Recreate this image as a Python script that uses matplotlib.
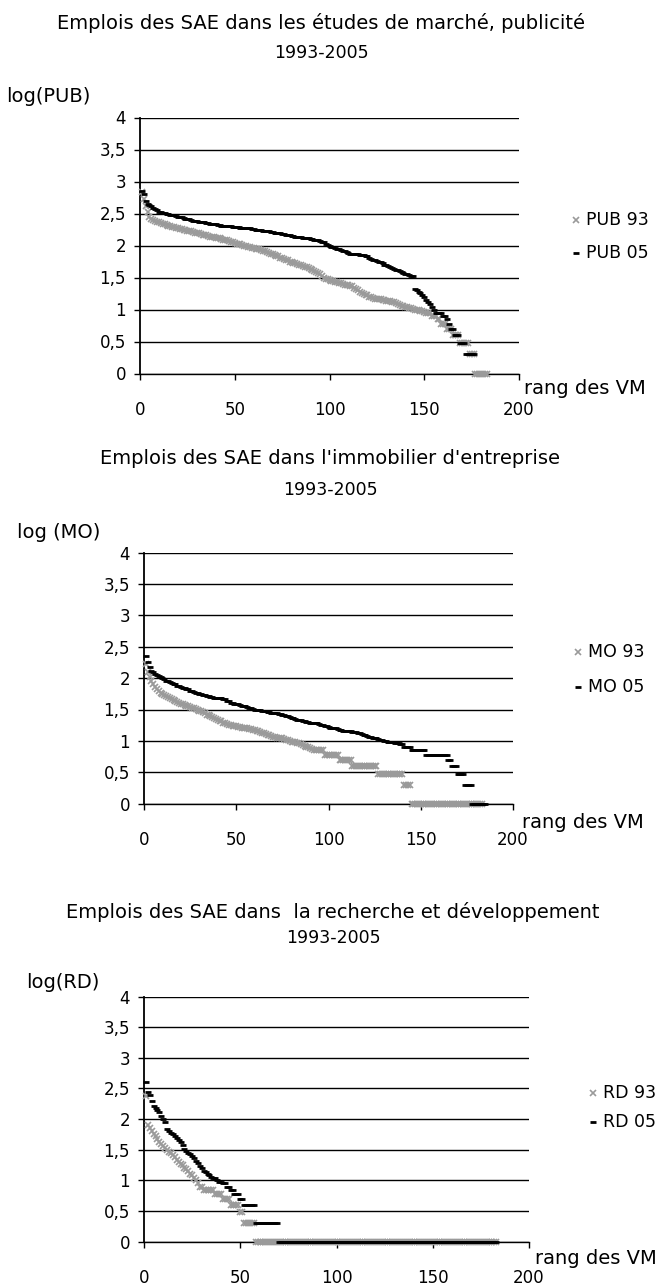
import numpy as np
import matplotlib
matplotlib.use("Agg")
import matplotlib.pyplot as plt
from matplotlib.lines import Line2D

""" Rank-size data: log10 of SAE jobs per city, cities ranked from 1 """
PUB_93 = [2.83, 2.72, 2.62, 2.52, 2.45, 2.42, 2.40, 2.39, 2.37, 2.36,
          2.35, 2.34, 2.33, 2.32, 2.31, 2.30, 2.29, 2.29, 2.28, 2.27,
          2.26, 2.26, 2.25, 2.24, 2.23, 2.23, 2.22, 2.21, 2.20, 2.20,
          2.19, 2.18, 2.17, 2.16, 2.16, 2.15, 2.14, 2.14, 2.13, 2.12,
          2.11, 2.11, 2.10, 2.09, 2.08, 2.08, 2.07, 2.06, 2.05, 2.04,
          2.03, 2.03, 2.02, 2.01, 2.00, 1.99, 1.98, 1.97, 1.96, 1.96,
          1.95, 1.94, 1.94, 1.93, 1.92, 1.91, 1.90, 1.89, 1.87, 1.86,
          1.85, 1.84, 1.83, 1.81, 1.80, 1.79, 1.78, 1.77, 1.75, 1.74,
          1.73, 1.72, 1.71, 1.70, 1.69, 1.68, 1.67, 1.66, 1.65, 1.64,
          1.62, 1.60, 1.59, 1.57, 1.55, 1.52, 1.50, 1.48, 1.47, 1.46,
          1.45, 1.44, 1.43, 1.43, 1.42, 1.41, 1.40, 1.39, 1.39, 1.38,
          1.37, 1.36, 1.34, 1.32, 1.30, 1.28, 1.26, 1.25, 1.23, 1.22,
          1.20, 1.19, 1.18, 1.17, 1.17, 1.16, 1.16, 1.15, 1.15, 1.14,
          1.14, 1.13, 1.12, 1.11, 1.10, 1.08, 1.07, 1.06, 1.05, 1.04,
          1.04, 1.03, 1.02, 1.01, 1.00, 1.00, 0.99, 0.98, 0.97, 0.96,
          0.95, 0.95, 0.95, 0.90, 0.90, 0.90, 0.85, 0.85, 0.78, 0.78,
          0.78, 0.70, 0.70, 0.70, 0.60, 0.60, 0.60, 0.60, 0.48, 0.48,
          0.48, 0.48, 0.48, 0.30, 0.30, 0.30, 0.00, 0.00, 0.00, 0.00,
          0.00, 0.00, 0.00]

PUB_05 = [2.85, 2.80, 2.70, 2.65, 2.63, 2.61, 2.59, 2.57, 2.55, 2.53,
          2.52, 2.51, 2.51, 2.50, 2.49, 2.48, 2.48, 2.47, 2.46, 2.45,
          2.44, 2.44, 2.43, 2.42, 2.41, 2.41, 2.40, 2.39, 2.39, 2.38,
          2.37, 2.37, 2.36, 2.36, 2.35, 2.35, 2.34, 2.34, 2.33, 2.33,
          2.32, 2.32, 2.31, 2.31, 2.31, 2.30, 2.30, 2.30, 2.29, 2.29,
          2.29, 2.29, 2.28, 2.28, 2.28, 2.28, 2.27, 2.27, 2.26, 2.26,
          2.25, 2.25, 2.24, 2.24, 2.23, 2.23, 2.22, 2.22, 2.21, 2.21,
          2.20, 2.20, 2.19, 2.19, 2.18, 2.18, 2.17, 2.16, 2.16, 2.15,
          2.15, 2.14, 2.14, 2.13, 2.13, 2.12, 2.12, 2.11, 2.11, 2.10,
          2.10, 2.09, 2.09, 2.08, 2.07, 2.06, 2.05, 2.03, 2.01, 2.00,
          1.98, 1.97, 1.96, 1.95, 1.94, 1.93, 1.92, 1.91, 1.90, 1.88,
          1.87, 1.87, 1.86, 1.86, 1.86, 1.85, 1.85, 1.85, 1.84, 1.83,
          1.81, 1.79, 1.78, 1.77, 1.76, 1.75, 1.74, 1.72, 1.70, 1.69,
          1.68, 1.67, 1.65, 1.64, 1.62, 1.61, 1.60, 1.58, 1.57, 1.56,
          1.55, 1.54, 1.53, 1.53, 1.32, 1.30, 1.28, 1.26, 1.23, 1.20,
          1.15, 1.11, 1.08, 1.04, 1.00, 0.95, 0.95, 0.95, 0.95, 0.90,
          0.90, 0.85, 0.78, 0.70, 0.70, 0.60, 0.60, 0.60, 0.48, 0.48,
          0.48, 0.30, 0.30, 0.30, 0.30, 0.30]

MO_93 = [2.22, 2.10, 2.02, 1.95, 1.90, 1.86, 1.82, 1.79, 1.76, 1.75,
         1.73, 1.71, 1.70, 1.68, 1.66, 1.65, 1.63, 1.62, 1.60, 1.59,
         1.58, 1.57, 1.56, 1.55, 1.54, 1.53, 1.52, 1.51, 1.49, 1.48,
         1.47, 1.46, 1.44, 1.42, 1.41, 1.39, 1.38, 1.36, 1.35, 1.33,
         1.32, 1.31, 1.29, 1.28, 1.27, 1.26, 1.25, 1.24, 1.23, 1.23,
         1.22, 1.22, 1.21, 1.21, 1.20, 1.20, 1.19, 1.19, 1.18, 1.17,
         1.16, 1.15, 1.14, 1.13, 1.12, 1.11, 1.10, 1.09, 1.08, 1.07,
         1.06, 1.05, 1.05, 1.04, 1.04, 1.03, 1.02, 1.01, 1.00, 0.99,
         0.98, 0.98, 0.97, 0.96, 0.95, 0.93, 0.92, 0.90, 0.90, 0.88,
         0.87, 0.85, 0.85, 0.85, 0.85, 0.85, 0.85, 0.78, 0.78, 0.78,
         0.78, 0.78, 0.78, 0.78, 0.78, 0.70, 0.70, 0.70, 0.70, 0.70,
         0.70, 0.70, 0.60, 0.60, 0.60, 0.60, 0.60, 0.60, 0.60, 0.60,
         0.60, 0.60, 0.60, 0.60, 0.60, 0.60, 0.48, 0.48, 0.48, 0.48,
         0.48, 0.48, 0.48, 0.48, 0.48, 0.48, 0.48, 0.48, 0.48, 0.48,
         0.30, 0.30, 0.30, 0.30] + [0.00] * 39

MO_05 = [2.35, 2.25, 2.17, 2.12, 2.10, 2.07, 2.05, 2.04, 2.02, 2.00,
         1.98, 1.96, 1.95, 1.94, 1.92, 1.91, 1.90, 1.88, 1.87, 1.86,
         1.85, 1.84, 1.83, 1.82, 1.80, 1.79, 1.78, 1.77, 1.76, 1.75,
         1.74, 1.73, 1.73, 1.72, 1.71, 1.70, 1.70, 1.69, 1.69, 1.68,
         1.68, 1.68, 1.67, 1.66, 1.64, 1.63, 1.61, 1.60, 1.59, 1.58,
         1.58, 1.57, 1.56, 1.55, 1.55, 1.54, 1.53, 1.52, 1.51, 1.50,
         1.50, 1.49, 1.49, 1.48, 1.48, 1.47, 1.46, 1.46, 1.45, 1.45,
         1.44, 1.44, 1.43, 1.43, 1.42, 1.41, 1.40, 1.39, 1.38, 1.37,
         1.36, 1.35, 1.34, 1.34, 1.33, 1.32, 1.31, 1.30, 1.30, 1.29,
         1.29, 1.29, 1.28, 1.28, 1.27, 1.26, 1.25, 1.24, 1.23, 1.22,
         1.21, 1.21, 1.20, 1.20, 1.19, 1.18, 1.17, 1.16, 1.16, 1.15,
         1.15, 1.15, 1.14, 1.14, 1.14, 1.13, 1.12, 1.11, 1.10, 1.09,
         1.08, 1.07, 1.06, 1.05, 1.04, 1.04, 1.03, 1.02, 1.01, 1.00,
         1.00, 0.99, 0.98, 0.98, 0.98, 0.97, 0.97, 0.96, 0.95, 0.95,
         0.90, 0.90, 0.90, 0.90, 0.85, 0.85, 0.85, 0.85, 0.85, 0.85,
         0.85, 0.85, 0.78, 0.78, 0.78, 0.78, 0.78, 0.78, 0.78, 0.78,
         0.78, 0.78, 0.78, 0.78, 0.70, 0.70, 0.60, 0.60, 0.60, 0.48,
         0.48, 0.48, 0.48, 0.30, 0.30, 0.30, 0.30, 0.00, 0.00, 0.00,
         0.00, 0.00, 0.00, 0.00, 0.00]

RD_93 = [2.38, 1.90, 1.85, 1.80, 1.76, 1.72, 1.68, 1.63, 1.59, 1.56,
         1.53, 1.50, 1.47, 1.44, 1.42, 1.38, 1.34, 1.30, 1.27, 1.25,
         1.20, 1.18, 1.15, 1.11, 1.08, 1.04, 1.00, 0.95, 0.90, 0.90,
         0.85, 0.85, 0.85, 0.85, 0.85, 0.85, 0.78, 0.78, 0.78, 0.78,
         0.70, 0.70, 0.70, 0.70, 0.60, 0.60, 0.60, 0.60, 0.60, 0.48,
         0.48, 0.30, 0.30, 0.30, 0.30, 0.30, 0.30] + [0.00] * 126

RD_05 = [2.60, 2.44, 2.40, 2.30, 2.22, 2.18, 2.15, 2.12, 2.05, 2.00,
         1.96, 1.84, 1.80, 1.78, 1.75, 1.72, 1.69, 1.66, 1.62, 1.57,
         1.52, 1.48, 1.45, 1.43, 1.40, 1.36, 1.32, 1.28, 1.24, 1.20,
         1.16, 1.13, 1.11, 1.08, 1.06, 1.04, 1.04, 1.00, 0.98, 0.98,
         0.95, 0.95, 0.90, 0.90, 0.85, 0.85, 0.78, 0.78, 0.78, 0.70,
         0.70, 0.60, 0.60, 0.60, 0.60, 0.60, 0.60, 0.30, 0.30, 0.30,
         0.30, 0.30, 0.30, 0.30, 0.30, 0.30, 0.30, 0.30, 0.30] + [0.00] * 114

TITLES = ["Emplois des SAE dans les études de marché, publicité",
          "Emplois des SAE dans l'immobilier d'entreprise",
          "Emplois des SAE dans  la recherche et développement"]
PERIOD = "1993-2005"
Y_LABELS = ["log(PUB)", "log (MO)", "log(RD)"]
LEGENDS = [("PUB 93", "PUB 05"), ("MO 93", "MO 05"), ("RD 93", "RD 05")]
SERIES = [(PUB_93, PUB_05), (MO_93, MO_05), (RD_93, RD_05)]
X_LABEL = "rang des VM"
Y_TICKS = [0, 0.5, 1, 1.5, 2, 2.5, 3, 3.5, 4]
Y_TICK_LABELS = ["0", "0,5", "1", "1,5", "2", "2,5", "3", "3,5", "4"]
X_TICKS = [0, 50, 100, 150, 200]

GREY = "#9a9a9a"

W, H = 670, 1287

# layout of each panel in pixels (from top-left)
AX_BOX = [(140, 117.5, 519, 373.5), (144, 552.5, 513, 803.7), (144, 996.5, 529, 1241.7)]
TITLE_POS = [(321, 23, 53), (330, 458, 490), (333, 912, 938)]
YLAB_POS = [(6, 97), (17, 532), (26, 982)]
XLAB_POS = [(524, 388), (522, 822), (535, 1258)]
LEG_POS = [(576, 220, 253), (578, 652, 687), (593, 1093, 1122)]


def fx(px):
    return px / W


def fy(py):
    return 1 - py / H


def main():
    plt.rcParams["font.family"] = ["DejaVu Sans"]
    fig = plt.figure(figsize=(W / 100, H / 100), dpi=100)

    for i in range(3):
        x0, y0, x1, y1 = AX_BOX[i]
        ax = fig.add_axes([fx(x0), fy(y1), fx(x1) - fx(x0), fy(y0) - fy(y1)])
        y93, y05 = SERIES[i]

        ax.plot(np.arange(1, len(y93) + 1), y93, linestyle="none", marker="x",
                color=GREY, markersize=4, markeredgewidth=1.2, clip_on=False, zorder=3)
        ax.plot(np.arange(1, len(y05) + 1), y05, linestyle="none", marker="_",
                color="black", markersize=4.5, markeredgewidth=2.0, clip_on=False, zorder=4)

        ax.set_xlim(0, 200)
        ax.set_ylim(0, 4)
        ax.set_yticks(Y_TICKS)
        ax.set_yticklabels(Y_TICK_LABELS, fontsize=12)
        ax.set_xticks(X_TICKS)
        ax.set_xticklabels([str(t) for t in X_TICKS], fontsize=12)
        ax.grid(axis="y", color="black", linewidth=1.0)
        ax.set_axisbelow(True)
        for side in ["top", "right"]:
            ax.spines[side].set_visible(False)
        ax.spines["left"].set_linewidth(1.3)
        ax.spines["bottom"].set_linewidth(1.0)
        ax.tick_params(axis="y", direction="out", length=4, width=1.0, pad=6)
        ax.tick_params(axis="x", direction="out", length=4, width=1.0, pad=16)

        # titles and axis captions
        cx, ty1, ty2 = TITLE_POS[i]
        fig.text(fx(cx), fy(ty1), TITLES[i], ha="center", va="center", fontsize=14)
        fig.text(fx(cx), fy(ty2), PERIOD, ha="center", va="center", fontsize=12.5)
        lx, ly = YLAB_POS[i]
        fig.text(fx(lx), fy(ly), Y_LABELS[i], ha="left", va="center", fontsize=14)
        rx, ry = XLAB_POS[i]
        fig.text(fx(rx), fy(ry), X_LABEL, ha="left", va="center", fontsize=14)

        # legend beside each panel
        mx, ly1, ly2 = LEG_POS[i]
        fig.add_artist(Line2D([fx(mx)], [fy(ly1)], linestyle="none", marker="x",
                              color=GREY, markersize=4, markeredgewidth=1.2,
                              transform=fig.transFigure))
        fig.add_artist(Line2D([fx(mx)], [fy(ly2)], linestyle="none", marker="_",
                              color="black", markersize=4.5, markeredgewidth=2.0,
                              transform=fig.transFigure))
        fig.text(fx(mx + 10), fy(ly1), LEGENDS[i][0], ha="left", va="center", fontsize=12.5)
        fig.text(fx(mx + 10), fy(ly2), LEGENDS[i][1], ha="left", va="center", fontsize=12.5)

    fig.savefig("out.png", dpi=100)


if __name__ == "__main__":
    main()
